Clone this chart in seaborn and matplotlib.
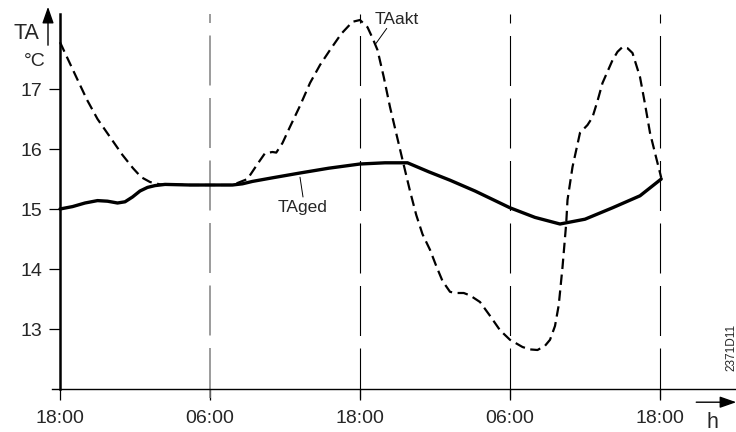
import matplotlib
matplotlib.use("Agg")
import matplotlib.pyplot as plt
import seaborn as sns

# hours after the first 18:00 mark
tick_hours = [0, 12, 24, 36, 48]
tick_labels = ["18:00", "06:00", "18:00", "06:00", "18:00"]
y_ticks = [13, 14, 15, 16, 17]

# TAged - damped outside temperature (solid)
ged_h = [0.0, 1.0, 2.0, 3.0, 3.8, 4.6, 5.2, 5.8, 6.4, 7.0, 7.6, 8.4, 10.4,
         13.8, 14.6, 15.4, 17.0, 19.2, 21.5, 24.0, 26.0, 27.8, 29.5, 31.2,
         33.2, 35.2, 36.0, 38.0, 40.0, 42.0, 44.2, 46.4, 48.1]
ged_t = [15.0, 15.04, 15.1, 15.14, 15.13, 15.1, 15.12, 15.2, 15.3, 15.36,
         15.39, 15.41, 15.40, 15.40, 15.42, 15.46, 15.52, 15.6, 15.68, 15.75,
         15.77, 15.77, 15.62, 15.48, 15.3, 15.1, 15.02, 14.86, 14.75, 14.83,
         15.02, 15.22, 15.5]

# TAakt - actual outside temperature (dashed)
akt_h = [0.0, 0.56, 1.3, 2.16, 3.0, 4.0, 5.0, 5.84, 6.5, 7.2, 8.0, 10.4, 13.8,
         15.0, 15.8, 16.4, 17.0, 17.3, 17.8, 18.4, 19.2, 20.0, 20.8, 21.6,
         22.5, 23.4, 24.0, 24.6, 25.0, 25.4, 25.9, 26.4, 26.9, 27.4, 28.0,
         28.5, 29.0, 29.6, 30.1, 30.6, 31.2, 31.6, 32.3, 32.8, 33.6, 34.4,
         35.2, 36.0, 37.0, 37.6, 38.2, 38.8, 39.2, 39.6, 39.9, 40.2, 40.5,
         40.6, 41.0, 41.6, 42.2, 42.6, 43.0, 43.4, 44.2, 44.6, 45.0, 45.4,
         45.8, 46.4, 46.8, 47.2, 47.7, 48.1]
akt_t = [17.78, 17.53, 17.2, 16.82, 16.5, 16.2, 15.9, 15.68, 15.53, 15.45,
         15.41, 15.40, 15.40, 15.5, 15.75, 15.93, 15.95, 15.94, 16.1, 16.37,
         16.72, 17.1, 17.4, 17.65, 17.92, 18.12, 18.15, 18.03, 17.85, 17.65,
         17.2, 16.7, 16.26, 15.82, 15.3, 14.9, 14.58, 14.32, 14.05, 13.8,
         13.62, 13.6, 13.6, 13.56, 13.45, 13.22, 12.98, 12.82, 12.7, 12.66,
         12.65, 12.72, 12.82, 13.05, 13.4, 14.03, 14.77, 15.15, 15.7, 16.27,
         16.4, 16.53, 16.8, 17.1, 17.48, 17.62, 17.7, 17.68, 17.6, 17.2, 16.75,
         16.27, 15.85, 15.52]

sns.set_style("white")
plt.rcParams["font.family"] = ["Liberation Sans", "DejaVu Sans"]
plt.rcParams["lines.scale_dashes"] = False

fig = plt.figure(figsize=(7.36, 4.32), dpi=100)
ax = fig.add_axes([52 / 736, 43 / 432, 684 / 736, 375 / 432])

# guide lines every 12 h
for i, h in enumerate(tick_hours[1:]):
    ax.vlines(h, 11.85, 18.25, colors="#808080" if i == 0 else "black",
              lw=1.1 if i == 0 else 0.8, linestyles=[(0, (36, 9))], clip_on=False)

sns.lineplot(x=akt_h, y=akt_t, ax=ax, color="black", lw=1.6, sort=False,
             estimator=None, linestyle=(0, (7.5, 4)))
sns.lineplot(x=ged_h, y=ged_t, ax=ax, color="black", lw=2.4, sort=False,
             estimator=None)

ax.set_xlim(-0.64, 54.08)
ax.set_ylim(12, 18.25)
ax.set_xticks(tick_hours)
ax.set_xticklabels(tick_labels)
ax.set_yticks(y_ticks)
ax.tick_params(axis="both", labelsize=14, direction="out", length=8, width=0.9,
               color="black", bottom=True, left=True)
ax.tick_params(axis="x", pad=7)
ax.tick_params(axis="y", pad=5)
ax.set_xlabel("")
ax.set_ylabel("")

for s in ["top", "right"]:
    ax.spines[s].set_visible(False)
ax.spines["left"].set_position(("data", 0))
ax.spines["left"].set_linewidth(1.8)
ax.spines["left"].set_color("black")
ax.spines["bottom"].set_linewidth(1.0)
ax.spines["bottom"].set_color("black")

# axis captions and arrows
ax.text(-2.65, 17.93, "TA", fontsize=15.5, ha="center", va="center", clip_on=False)
ax.text(-2.0, 17.46, "°C", fontsize=14, ha="center", va="center", clip_on=False)
ax.annotate("", xy=(-0.96, 18.37), xytext=(-0.96, 17.73), annotation_clip=False,
            arrowprops=dict(arrowstyle="-|>,head_length=1.0,head_width=0.35",
                            color="black", lw=1.0, shrinkA=0, shrinkB=0))
ax.text(52.2, 11.45, "h", fontsize=15.5, ha="center", va="center", clip_on=False)
ax.annotate("", xy=(54.1, 11.78), xytext=(50.9, 11.78), annotation_clip=False,
            arrowprops=dict(arrowstyle="-|>,head_length=1.0,head_width=0.35",
                            color="black", lw=1.0, shrinkA=0, shrinkB=0))

# curve labels with leader lines
ax.text(26.95, 18.15, "TAakt", fontsize=12.5, ha="center", va="center")
ax.plot([26.14, 25.28], [18.01, 17.76], color="black", lw=0.7)
ax.text(19.4, 15.02, "TAged", fontsize=12.5, ha="center", va="center")
ax.plot([19.2, 19.44], [15.53, 15.2], color="black", lw=0.7)

ax.text(53.7, 12.7, "2371D11", fontsize=8.5, rotation=90, ha="center",
        va="center", clip_on=False)

fig.savefig("out.png", dpi=100)
